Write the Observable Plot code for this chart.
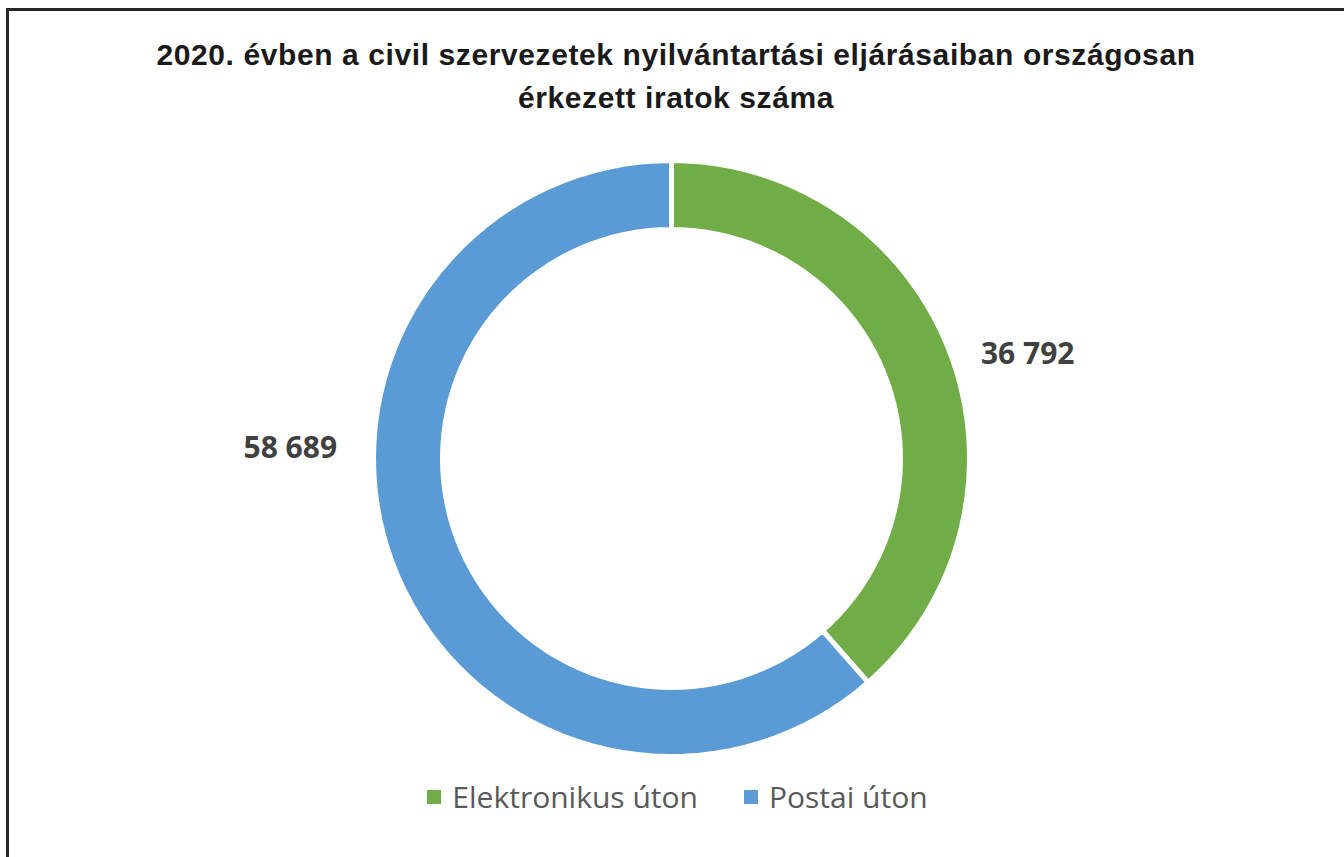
<!DOCTYPE html>
<html><head><meta charset="utf-8">
<script src="https://cdn.jsdelivr.net/npm/d3@7"></script>
<script src="https://cdn.jsdelivr.net/npm/@observablehq/plot@0.6"></script>
<style>
body{margin:0;width:1344px;height:857px;overflow:hidden;background:#fff;position:relative;font-family:"Liberation Sans",Arial,sans-serif}
#frame{position:absolute;left:6px;top:8px;width:1400px;height:900px;border:3px solid #262626;box-sizing:border-box}
#title{position:absolute;left:0;top:33px;width:1352px;text-align:center;font-weight:bold;font-size:30px;letter-spacing:0.6px;line-height:43px;color:#1a1a1a}
#chart{position:absolute;left:0;top:130px}
#legend{position:absolute;top:777px;left:0;width:1355px;display:flex;justify-content:center;align-items:center;font-family:"Open Sans",sans-serif;font-size:30px;line-height:40px;color:#595959}
.item{display:flex;align-items:center;margin:0 23px}
.sw{width:14px;height:14px;margin-right:11px}
</style></head>
<body>
<div id="frame"></div>
<div id="title">2020. évben a civil szervezetek nyilvántartási eljárásaiban országosan<br>érkezett iratok száma</div>
<div id="chart"></div>
<div id="legend"></div>
<script>
const categories = ["Elektronikus úton", "Postai úton"];
const values = [36792, 58689];
const colors = ["#70AD47", "#5B9BD5"];

const fmt = d3.formatLocale({thousands: "\u00a0", grouping: [3], decimal: ",", currency: ["", ""]}).format(",d");

const data = categories.map((c, i) => ({cat: c, value: values[i]}));
const arcs = d3.pie().sort(null).value(d => d.value)(data);
const inner = 229 / 298;
const steps = 120;
const pts = [];
arcs.forEach(a => {
  const n = Math.max(2, Math.ceil(steps * (a.endAngle - a.startAngle) / (2 * Math.PI)));
  for (let k = 0; k <= n; k++) {
    const t = a.startAngle + (a.endAngle - a.startAngle) * k / n;
    pts.push({cat: a.data.cat, x: Math.sin(t), y: Math.cos(t)});
  }
  for (let k = n; k >= 0; k--) {
    const t = a.startAngle + (a.endAngle - a.startAngle) * k / n;
    pts.push({cat: a.data.cat, x: inner * Math.sin(t), y: inner * Math.cos(t)});
  }
});
const labels = arcs.map(a => {
  const m = (a.startAngle + a.endAngle) / 2;
  return {cat: a.data.cat, text: fmt(a.data.value), x: 1.22 * Math.sin(m), y: 1.22 * Math.cos(m)};
});

const cx = 671, cy = 328, r = 298;
const chart = Plot.plot({
  width: 1344, height: 660,
  marginTop: 0, marginBottom: 0, marginLeft: 0, marginRight: 0,
  x: {domain: [-1, 1], range: [cx - r, cx + r], axis: null},
  y: {domain: [-1, 1], range: [cy + r, cy - r], axis: null},
  color: {domain: categories, range: colors},
  style: {background: "transparent"},
  marks: [
    Plot.line(pts, {x: "x", y: "y", z: "cat", fill: "cat", stroke: "white", strokeWidth: 5, curve: "linear-closed"}),
    Plot.text(labels.filter(d => d.cat === categories[0]), {x: "x", y: "y", text: "text", dx: 16, dy: 24, fontSize: 30, fontWeight: "bold", fontFamily: "Open Sans", fill: "#404040"}),
    Plot.text(labels.filter(d => d.cat === categories[1]), {x: "x", y: "y", text: "text", dx: -41, dy: -138, fontSize: 30, fontWeight: "bold", fontFamily: "Open Sans", fill: "#404040"})
  ]
});
document.getElementById("chart").appendChild(chart);

const leg = document.getElementById("legend");
categories.forEach((c, i) => {
  const it = document.createElement("div");
  it.className = "item";
  const sw = document.createElement("span");
  sw.className = "sw";
  sw.style.background = colors[i];
  const tx = document.createElement("span");
  tx.textContent = c;
  it.appendChild(sw); it.appendChild(tx);
  leg.appendChild(it);
});
</script>
</body></html>
